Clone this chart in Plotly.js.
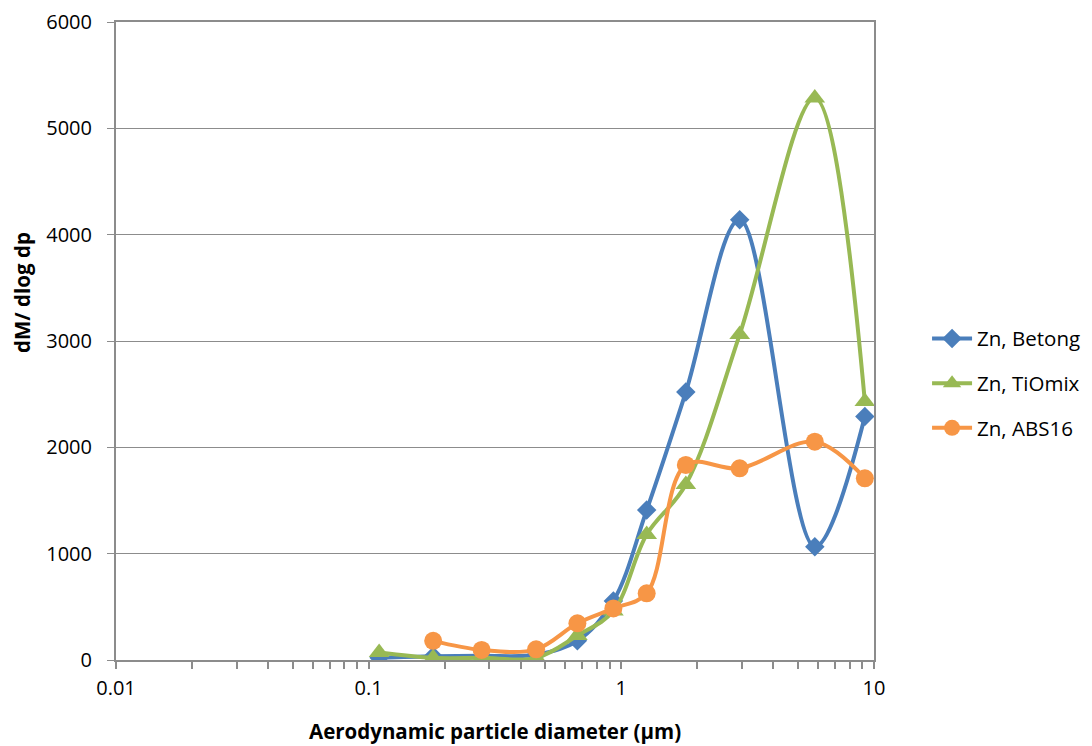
<!DOCTYPE html>
<html>
<head>
<meta charset="utf-8">
<script src="https://cdn.plot.ly/plotly-3.0.1.min.js"></script>
<style>html,body{margin:0;padding:0;background:#fff;}#chart{width:1092px;height:746px;}</style>
</head>
<body>
<div id="chart"></div>
<script>
// Aerodynamic particle diameter (µm)
const diam = [0.11, 0.18, 0.28, 0.46, 0.67, 0.93, 1.26, 1.80, 2.94, 5.83, 9.2];
const betong = [20, 35, 40, 50, 180, 555, 1410, 2520, 4140, 1065, 2290];
const tiomix = [70, 20, 20, 20, 230, 460, 1180, 1650, 3060, 5285, 2430];
const abs16 = [null, 180, 95, 100, 345, 485, 627, 1834, 1803, 2053, 1709];
const seriesNames = ['Zn, Betong', 'Zn, TiOmix', 'Zn, ABS16'];
const majorTicks = [0.01, 0.1, 1, 10];
const majorLabels = ['0.01', '0.1', '1', '10'];
const yTicks = [0, 1000, 2000, 3000, 4000, 5000, 6000];

const font = 'Open Sans, Liberation Sans, sans-serif';
const gridCol = '#8c8c8c';

const allTicks = [], allLabels = [];
majorTicks.forEach((m, i) => {
  allTicks.push(m); allLabels.push(majorLabels[i]);
  if (i < majorTicks.length - 1) {
    for (let k = 2; k <= 9; k++) { allTicks.push(m * k); allLabels.push(''); }
  }
});

const traces = [
  {x: diam, y: betong, name: seriesNames[0], legendgroup: 'a', mode: 'lines+markers',
   line: {color: '#4A7EBB', width: 4, shape: 'spline', smoothing: 1},
   marker: {symbol: 'diamond', size: 15, color: '#4A7EBB'}},
  {x: diam, y: tiomix, name: seriesNames[1], legendgroup: 'b', mode: 'lines+markers',
   line: {color: '#98B954', width: 4, shape: 'spline', smoothing: 1},
   marker: {symbol: 'triangle-up', size: 18, color: '#98B954'}},
  {x: diam, y: abs16, name: seriesNames[2], legendgroup: 'c', mode: 'lines+markers',
   line: {color: '#F79646', width: 4, shape: 'spline', smoothing: 1},
   marker: {symbol: 'circle', size: 18, color: '#F79646'}}
];

const layout = {
  width: 1092, height: 746,
  margin: {l: 116, r: 218, t: 22, b: 86, autoexpand: false},
  paper_bgcolor: '#fff', plot_bgcolor: '#fff',
  font: {family: font, size: 20, color: '#000'},
  showlegend: true,
  legend: {x: 1.07, y: 0.535, xanchor: 'left', yanchor: 'top', traceorder: 'grouped',
           tracegroupgap: 15, itemwidth: 40, font: {family: font, size: 20.5, color: '#000'},
           bgcolor: 'rgba(0,0,0,0)'},
  xaxis: {type: 'log', range: [-2, 1], tickmode: 'array', tickvals: allTicks, ticktext: allLabels,
          ticks: 'outside', ticklen: 7, tickwidth: 2, tickcolor: gridCol, ticklabelstandoff: 2,
          showline: true, linecolor: gridCol, linewidth: 2, mirror: true,
          showgrid: false, zeroline: false, tickfont: {family: font, size: 20}},
  xaxis2: {type: 'log', range: [-2, 1], overlaying: 'x', anchor: 'y', side: 'bottom',
           tickmode: 'array', tickvals: allTicks, ticktext: allTicks.map(() => ''),
           ticks: 'inside', ticklen: 7, tickwidth: 2, tickcolor: gridCol,
           showline: false, showgrid: false, zeroline: false, showticklabels: false},
  yaxis: {range: [0, 6000], tickmode: 'array', tickvals: yTicks, ticktext: yTicks.map(String),
          ticks: 'outside', ticklen: 7, tickcolor: gridCol, tickwidth: 1, ticklabelstandoff: 11,
          showline: true, linecolor: gridCol, linewidth: 2, mirror: true,
          showgrid: true, gridcolor: gridCol, gridwidth: 1, zeroline: false,
          tickfont: {family: font, size: 20}},
  annotations: [
    {text: '<b>Aerodynamic particle diameter (µm)</b>', xref: 'paper', yref: 'paper',
     x: 0.5, y: 0, yshift: -71, xanchor: 'center', yanchor: 'middle', showarrow: false,
     font: {family: font, size: 20.5, color: '#000'}},
    {text: '<b>dM/ dlog dp</b>', xref: 'paper', yref: 'paper', textangle: -90,
     x: 0, xshift: -94, y: (660 - 293) / 638, xanchor: 'center', yanchor: 'middle', showarrow: false,
     font: {family: font, size: 20.5, color: '#000'}}
  ]
};

Plotly.newPlot('chart', traces, layout, {displayModeBar: false, staticPlot: true});
</script>
</body>
</html>
